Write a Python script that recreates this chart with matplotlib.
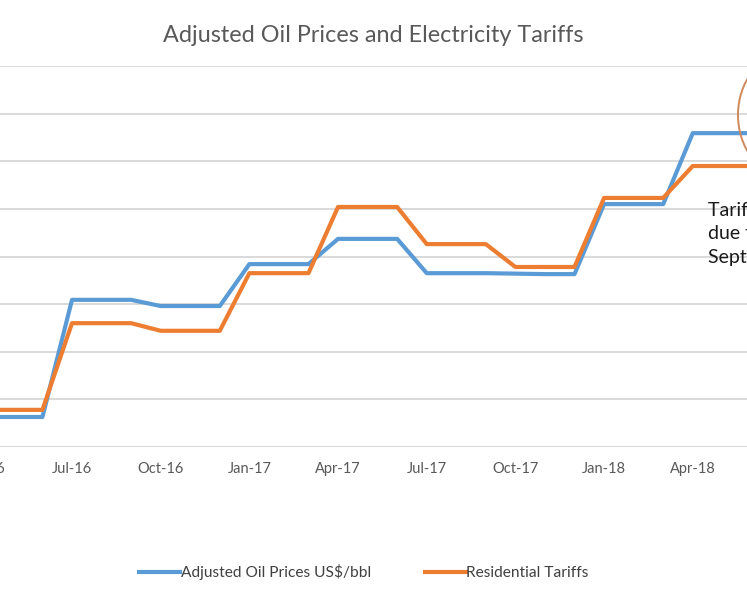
import matplotlib
matplotlib.use("Agg")
import matplotlib.pyplot as plt
from matplotlib.patches import Ellipse
import matplotlib.transforms as mtransforms

# Months since Jul-16 (0 = Jul-16)
months = list(range(-3, 24))
oil_prices = [6.3, 6.3, 6.3,
              30.9, 30.9, 30.9,
              29.6, 29.6, 29.6,
              38.4, 38.4, 38.4,
              43.7, 43.7, 43.7,
              36.5, 36.5, 36.5,
              36.4, 36.3, 36.3,
              51.0, 51.0, 51.0,
              65.9, 65.9, 65.9]
tariffs = [7.8, 7.8, 7.8,
           26.0, 26.0, 26.0,
           24.4, 24.4, 24.4,
           36.5, 36.5, 36.5,
           50.4, 50.4, 50.4,
           42.6, 42.6, 42.6,
           37.8, 37.8, 37.8,
           52.3, 52.3, 52.3,
           59.0, 59.0, 59.0]
tick_pos = [0, 3, 6, 9, 12, 15, 18, 21]
tick_labels = ["Jul-16", "Oct-16", "Jan-17", "Apr-17", "Jul-17", "Oct-17", "Jan-18", "Apr-18"]
edge_tick_pos = -3
edge_tick_label = "Apr-16"
title = "Adjusted Oil Prices and Electricity Tariffs"
series_names = ["Adjusted Oil Prices US$/bbl", "Residential Tariffs"]
note = "Tariffs increase\ndue from\nSept 2018"

plt.rcParams['font.family'] = ['Lato', 'DejaVu Sans']

W, H = 747, 598
fig = plt.figure(figsize=(W / 100, H / 100), dpi=100)
ax_bottom = (H - 447) / H
ax_top = (H - 66) / H
ax = fig.add_axes([0, ax_bottom, 1, ax_top - ax_bottom])

px_per_month = 29.56
x0_px = 72
ax.set_xlim(-x0_px / px_per_month, (W - x0_px) / px_per_month)
ax.set_ylim(0, 80)

for y in range(10, 81, 10):
    ax.axhline(y, color='#d9d9d9', lw=1.4, zorder=0)
ax.axhline(0, color='#d9d9d9', lw=1.6, zorder=0)

blue = '#5B9BD5'
orange = '#ED7D31'
ax.plot(months, oil_prices, color=blue, lw=3, label=series_names[0],
        solid_joinstyle='round', zorder=3)
ax.plot(months, tariffs, color=orange, lw=3, label=series_names[1],
        solid_joinstyle='round', zorder=3)

for s in ax.spines.values():
    s.set_visible(False)
ax.set_yticks([])
ax.set_xticks(tick_pos)
ax.set_xticklabels(tick_labels, fontsize=10.5, color='#595959')
ax.tick_params(axis='x', length=0, pad=11)

# partially visible label at the left edge
trans = mtransforms.blended_transform_factory(ax.transData, ax.transAxes) + \
    mtransforms.ScaledTranslation(0, -11 / 72, fig.dpi_scale_trans)
ax.text(edge_tick_pos, 0, edge_tick_label, transform=trans, ha='center', va='top',
        fontsize=10.5, color='#595959', clip_on=False)

fig.text(373 / W, 1 - 35 / H, title, ha='center', va='center',
         fontsize=16.8, color='#595959')

# annotation
fig.text(708 / W, 1 - 202 / H, note,
         ha='left', va='top', fontsize=14, color='#1a1a1a', linespacing=1.45)
ell = Ellipse((785 / W, 1 - 115 / H), 94 / W, 120 / H, transform=fig.transFigure,
              fill=False, edgecolor='#D0895A', lw=1.4)
fig.patches.append(ell)

fig.legend(loc='center', bbox_to_anchor=(364 / W, 1 - 572 / H), ncol=2,
           frameon=False, fontsize=11.2, handlelength=2.6, handletextpad=0.05,
           columnspacing=3.5, labelcolor='#404040', borderaxespad=0, borderpad=0)

fig.savefig("out.png", dpi=100)
